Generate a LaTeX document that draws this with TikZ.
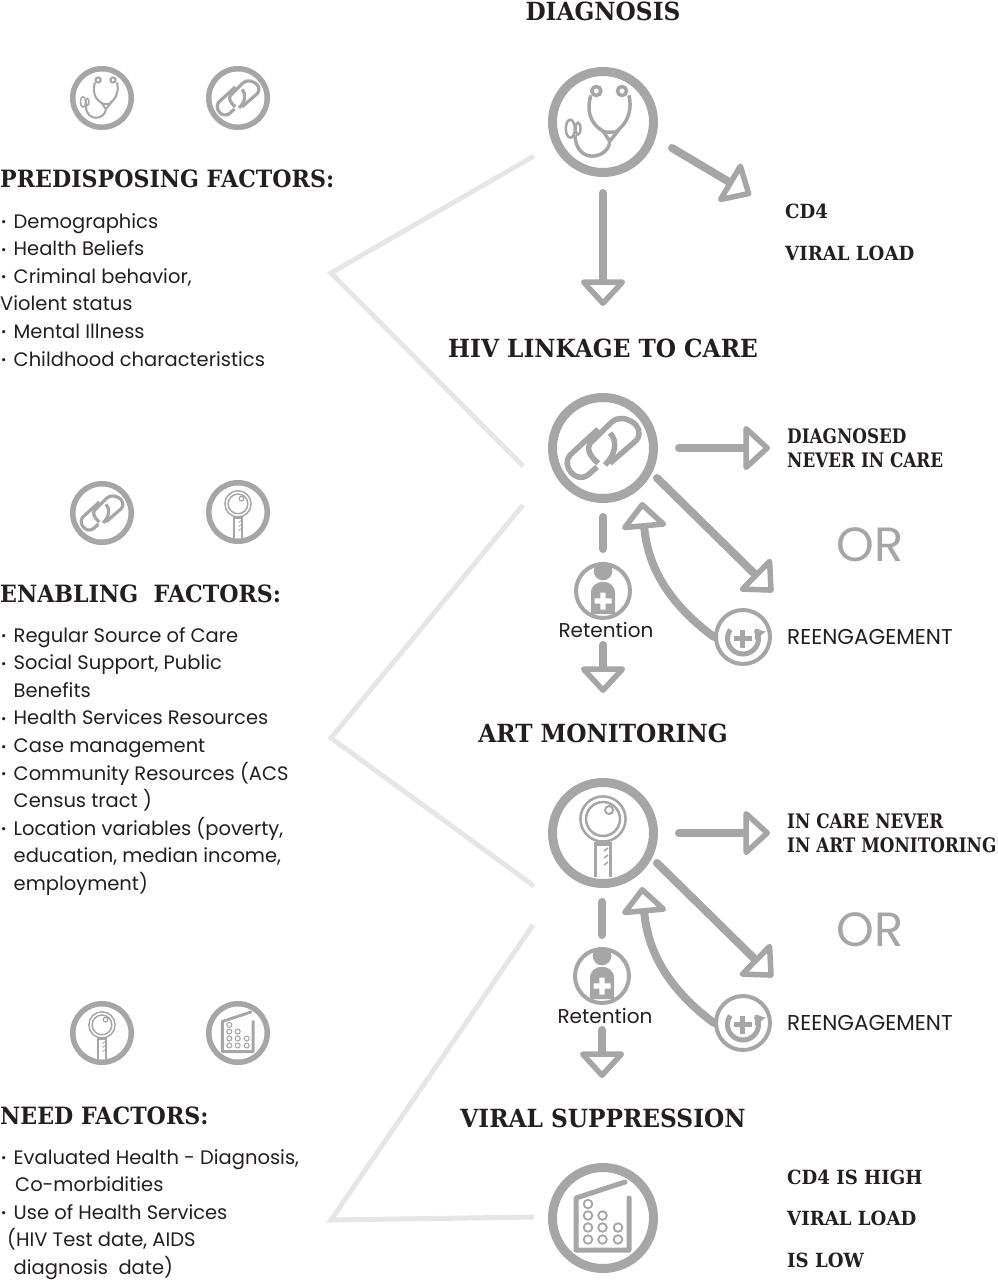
\documentclass[tikz,border=0pt]{standalone}
\usepackage{fontspec}
\usetikzlibrary{arrows.meta}
\setmainfont{Poppins}
\newfontfamily\headfont[FakeStretch=0.93]{DejaVu Serif}
\newfontfamily\outfont[FakeStretch=0.84]{DejaVu Serif}
\definecolor{icongray}{HTML}{A6A6A6}
\definecolor{fadegray}{HTML}{E6E6E6}
\definecolor{inkblack}{HTML}{231F20}
\tikzset{
  bigring/.style={draw=icongray, circle, line width=9pt, inner sep=0pt, minimum size=101pt},
  smallring/.style={draw=icongray, circle, line width=5.5pt, inner sep=0pt, minimum size=58.5pt},
  carering/.style={draw=icongray, circle, line width=4pt, inner sep=0pt, minimum size=54pt},
  flowarrow/.style={draw=icongray, line width=8pt, line cap=round, -{Triangle[open,round,length=28pt,width=50pt,line width=5.5pt]}},
  flowline/.style={draw=icongray, line width=8pt, line cap=round},
  fadeline/.style={draw=fadegray, line width=5pt},
  stagehead/.style={text=inkblack, font=\headfont\bfseries\fontsize{25}{25}\selectfont, inner sep=0pt},
  factorhead/.style={text=inkblack, font=\headfont\bfseries\fontsize{23.8}{24}\selectfont, inner sep=0pt, anchor=west},
  outcome/.style={text=inkblack, font=\outfont\bfseries\fontsize{20}{24}\selectfont, inner sep=0pt, anchor=west, align=left},
  resultlabel/.style={text=inkblack, font=\headfont\bfseries\fontsize{19.5}{24}\selectfont, inner sep=0pt, anchor=west},
  factorlist/.style={text=inkblack, font=\fontsize{19.5}{27.6}\selectfont, inner sep=0pt, anchor=north west, align=left},
  backlabel/.style={text=inkblack, font=\fontsize{21.5}{22}\selectfont, inner sep=0pt, anchor=west},
  retlabel/.style={text=inkblack, font=\fontsize{20}{22}\selectfont, inner sep=0pt},
  orlabel/.style={text=icongray, font=\fontsize{48}{48}\selectfont, inner sep=0pt},
}
\newcommand{\dotitem}{\makebox[13.5pt][l]{\hspace{1pt}\raisebox{1.5pt}{\fontsize{13}{13}\selectfont •}}}
\newcommand{\iconsteth}[2]{\begin{scope}[shift={(#1)},scale=#2,draw=icongray,line width=#2*3.5pt]
  \draw (-6.7,-31) circle (4.5) (19,-31) circle (4.5);
  \draw (-12.3,-26.7) .. controls (-18,-5) and (-8,5) .. (1.7,10);
  \draw (26,-26.7) .. controls (30,-8) and (22,3) .. (12.7,10);
  \draw (0.7,10) -- (14,10) -- (6.7,19.3) -- cycle;
  \draw (6.7,20) .. controls (5,37) and (-27,43) .. (-28,13);
  \draw[line width=#2*2.5pt] (-32.7,6.7) ellipse [x radius=4.5, y radius=9];
  \draw[line width=#2*2.5pt] (-25,6.7) ellipse [x radius=2.5, y radius=6];
\end{scope}}
\newcommand{\iconchain}[2]{\begin{scope}[shift={(#1)},scale=#2,draw=icongray,line width=#2*5.5pt]
  \draw (-4.7,-19) -- (-33,7) .. controls (-42,17) and (-28,36) .. (-15,27) -- (-6,19);
  \draw (7,-15) .. controls (15.3,-6.3) and (12,7) .. (2,17);
  \draw (-4.7,15.3) .. controls (-14.7,7) and (-16,0) .. (-13,-4.7) -- (8.7,-26) .. controls (18.7,-36) and (44,-23) .. (33.7,-8) -- (7,15.3);
\end{scope}}
\newcommand{\iconlens}[2]{\begin{scope}[shift={(#1)},scale=#2,draw=icongray]
  \draw[line width=#2*2.5pt] (0,-14) circle (22.6);
  \draw[line width=#2*2.5pt] (0,-14) circle (17);
  \draw[fill=white, line width=#2*2pt] (6,-23) circle (4);
  \draw[line width=#2*3.5pt] (-5,8) -- (-5,11) (5,8) -- (5,11) (-5,9) -- (5,9);
  \draw[line width=#2*3.5pt] (-7.6,44) -- (-7.6,11) -- (7.6,11) -- (7.6,44);
  \draw[line width=#2*1.5pt] (1,18) -- (5,15) (1,25) -- (5,22) (1,32) -- (5,29);
\end{scope}}
\newcommand{\iconbars}[2]{\begin{scope}[shift={(#1)},scale=#2,draw=icongray]
  \draw[line width=#2*5pt, line cap=round, line join=round] (22,-36) -- (-27,-20) -- (-27,32) -- (26,32) -- (26,-20);
  \foreach \px/\py in {-15/-14,-15/-2.5,-15/9.5,-15/21.5,-0.5/-2.5,-0.5/9.5,-0.5/21.5,15/9.5,15/21.5}
    \draw[line width=#2*1.8pt] (\px,\py) circle (4.3);
\end{scope}}
\newcommand{\iconcare}[1]{\begin{scope}[shift={(#1)}]
  \fill[icongray] (0,-20) circle (9.3);
  \fill[icongray] (-12,23) -- (-12,2) .. controls (-12,-13) and (12,-13) .. (12,2) -- (12,23) -- cycle;
  \fill[white] (-2.6,1.5) rectangle (2.6,18.5) (-8.5,7.4) rectangle (8.5,12.6);
\end{scope}}
\newcommand{\iconback}[1]{\begin{scope}[shift={(#1)},draw=icongray]
  \draw[line width=4.5pt] (-9.5,1.5) -- (8.5,1.5) (-0.5,-7.5) -- (-0.5,10.5);
  \draw[line width=5pt, -{Triangle[length=9pt,width=13pt]}] plot[domain=215:-40, samples=30, smooth] ({15.5*cos(\x)},{1.5+15.5*sin(\x)});
\end{scope}}
\begin{document}
\begin{tikzpicture}[x=1pt,y=-1pt]
\useasboundingbox (0,0) rectangle (997,1280);
\node[bigring] (diag) at (603,122) {};
\node[bigring] (link) at (603,448) {};
\node[bigring] (art) at (603,833) {};
\node[bigring] (supp) at (603,1218) {};
\node[carering] (careone) at (603,591) {};
\node[carering] (caretwo) at (602,976) {};
\node[carering] (backone) at (743,637) {};
\node[carering] (backtwo) at (743,1023) {};
\node[smallring] (preone) at (102,98) {};
\node[smallring] (pretwo) at (238,98) {};
\node[smallring] (enaone) at (102,513) {};
\node[smallring] (enatwo) at (238,512) {};
\node[smallring] (needone) at (102,1033) {};
\node[smallring] (needtwo) at (238,1033) {};
\iconsteth{diag}{1}
\iconchain{link}{1}
\iconlens{art}{1}
\iconbars{supp}{1}
\iconsteth{preone}{0.58}
\iconchain{pretwo}{0.58}
\iconchain{enaone}{0.58}
\iconlens{enatwo}{0.58}
\iconlens{needone}{0.58}
\iconbars{needtwo}{0.58}
\iconcare{careone}
\iconcare{caretwo}
\iconback{backone}
\iconback{backtwo}
\node[stagehead] (diagtitle) at (603,11) {DIAGNOSIS};
\node[stagehead] (linktitle) at (603,348) {HIV LINKAGE TO CARE};
\node[stagehead] (arttitle) at (603,733) {ART MONITORING};
\node[stagehead] (supptitle) at (603,1118) {VIRAL SUPPRESSION};
\node[factorhead] (prehead) at (0,179) {PREDISPOSING FACTORS:};
\node[factorhead] (enahead) at (0,594) {ENABLING\ \ FACTORS:};
\node[factorhead] (needhead) at (0,1116) {NEED FACTORS:};
\node[factorlist] (prelist) at (0,213) {\dotitem Demographics\\\dotitem Health Beliefs\\\dotitem Criminal behavior,\\Violent status\\\dotitem Mental Illness\\\dotitem Childhood characteristics};
\node[factorlist] (enalist) at (0,627) {\dotitem Regular Source of Care\\\dotitem Social Support, Public\\\hspace*{13.5pt}Benefits\\\dotitem Health Services Resources\\\dotitem Case management\\\dotitem Community Resources (ACS\\\hspace*{13.5pt}Census tract )\\\dotitem Location variables (poverty,\\\hspace*{13.5pt}education, median income,\\\hspace*{13.5pt}employment)};
\node[factorlist] (needlist) at (0,1149) {\dotitem Evaluated Health - Diagnosis,\\\hspace*{15pt}Co-morbidities\\\dotitem Use of Health Services\\\hspace*{7pt}(HIV Test date, AIDS\\\hspace*{13.5pt}diagnosis\ \ date)};
\node[resultlabel] (cdfour) at (785,211) {CD4};
\node[resultlabel] (viralload) at (785,253) {VIRAL LOAD};
\node[outcome] (nevercare) at (787,448) {DIAGNOSED\\NEVER IN CARE};
\node[outcome] (neverart) at (787,833) {IN CARE NEVER\\IN ART MONITORING};
\node[resultlabel] (cdhigh) at (787,1177) {CD4 IS HIGH};
\node[resultlabel] (viralsupp) at (787,1218) {VIRAL LOAD};
\node[resultlabel] (islow) at (787,1260) {IS LOW};
\node[orlabel] (orone) at (870,545) {OR};
\node[orlabel] (ortwo) at (870,930) {OR};
\node[backlabel] (backtextone) at (787,637) {REENGAGEMENT};
\node[backlabel] (backtexttwo) at (787,1023) {REENGAGEMENT};
\node[retlabel] (retone) at (606,630) {Retention};
\node[retlabel] (rettwo) at (605,1016) {Retention};
\coordinate (preapex) at (331,273);
\coordinate (preup) at (534,156);
\coordinate (predown) at (523,466);
\coordinate (enaapex) at (331,738);
\coordinate (enaup) at (523,505);
\coordinate (enadown) at (534,886);
\coordinate (needapex) at (331,1220);
\coordinate (needup) at (533,925);
\coordinate (needdown) at (534,1217);
\draw[fadeline] (preup) -- (preapex) -- (predown);
\draw[fadeline] (enaup) -- (enaapex) -- (enadown);
\draw[fadeline] (needup) -- (needapex) -- (needdown);
\coordinate (diagout) at (672,148);
\coordinate (diagtip) at (751,195);
\coordinate (diagdown) at (603,193);
\coordinate (linkin) at (603,306);
\draw[flowarrow] (diagout) -- (diagtip);
\draw[flowarrow] (diagdown) -- (linkin);
\coordinate (linkright) at (679,448);
\coordinate (linktip) at (770,448);
\coordinate (linkdiag) at (657,478);
\coordinate (linkdiagtip) at (773,592);
\coordinate (linkup) at (642,502);
\coordinate (linkdash) at (603,517);
\coordinate (careoneend) at (603,549);
\coordinate (retoneout) at (603,645);
\coordinate (retonetip) at (603,693);
\draw[flowarrow] (linkright) -- (linktip);
\draw[flowarrow] (linkdiag) -- (linkdiagtip);
\draw[flowarrow] (backone.west) .. controls (672,606) and (648,570) .. (linkup);
\draw[flowline] (linkdash) -- (careoneend);
\draw[flowarrow] (retoneout) -- (retonetip);
\coordinate (artright) at (679,833);
\coordinate (arttip) at (770,833);
\coordinate (artdiag) at (657,863);
\coordinate (artdiagtip) at (773,977);
\coordinate (artup) at (642,887);
\coordinate (artdash) at (602,902);
\coordinate (caretwoend) at (602,935);
\coordinate (rettwoout) at (602,1030);
\coordinate (rettwotip) at (602,1078);
\draw[flowarrow] (artright) -- (arttip);
\draw[flowarrow] (artdiag) -- (artdiagtip);
\draw[flowarrow] (backtwo.west) .. controls (672,992) and (648,955) .. (artup);
\draw[flowline] (artdash) -- (caretwoend);
\draw[flowarrow] (rettwoout) -- (rettwotip);
\end{tikzpicture}
\end{document}
